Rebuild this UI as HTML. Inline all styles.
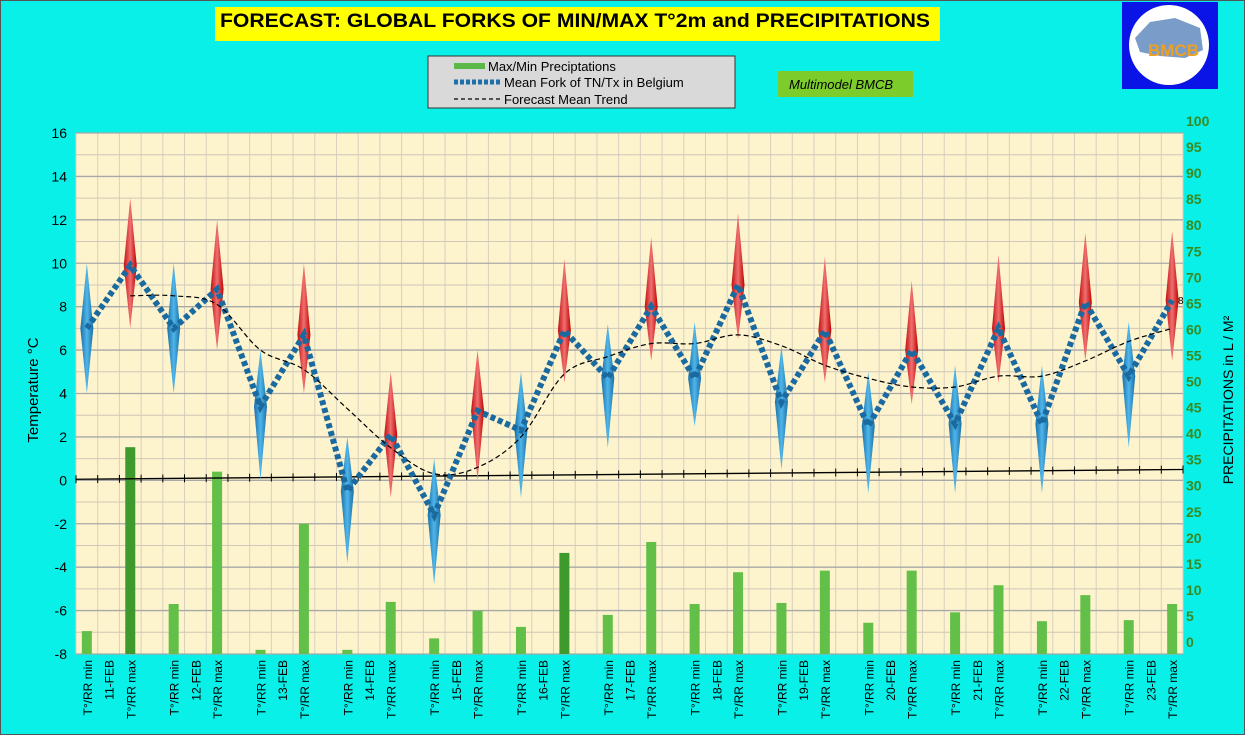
<!DOCTYPE html>
<html><head><meta charset="utf-8"><style>
body{margin:0;background:#08f0e8;font-family:"Liberation Sans",sans-serif}
svg{display:block}
</style></head><body>
<svg id="c" width="1245" height="735" xmlns="http://www.w3.org/2000/svg">
<defs>
<linearGradient id="gb" x1="0" x2="1"><stop offset="0" stop-color="#1a6fa8"/><stop offset="0.5" stop-color="#4fb6ea"/><stop offset="1" stop-color="#1a6fa8"/></linearGradient>
<linearGradient id="gr" x1="0" x2="1"><stop offset="0" stop-color="#c01010"/><stop offset="0.5" stop-color="#f07070"/><stop offset="1" stop-color="#c00000"/></linearGradient>
</defs>
<rect x="0" y="0" width="1245" height="735" fill="#08f0e8" stroke="#555" stroke-width="2"/>
<rect x="215" y="7" width="725" height="34" fill="#ffff00"/>
<text x="220" y="27" font-size="19" font-weight="bold" fill="#000" textLength="710" lengthAdjust="spacingAndGlyphs">FORECAST: GLOBAL FORKS OF  MIN/MAX T°2m and PRECIPITATIONS</text>
<g>
<rect x="428" y="56" width="307" height="52" fill="#d9d9d9" stroke="#333"/>
<rect x="454" y="63" width="31" height="6" fill="#5cb848"/>
<text x="488" y="71" font-size="13">Max/Min Preciptations</text>
<line x1="454" y1="82" x2="502" y2="82" stroke="#1f6fa8" stroke-width="5" stroke-dasharray="4,2"/>
<text x="504" y="87" font-size="13">Mean Fork of TN/Tx in Belgium</text>
<line x1="454" y1="99" x2="502" y2="99" stroke="#000" stroke-width="1.3" stroke-dasharray="4,3"/>
<text x="504" y="104" font-size="13">Forecast Mean Trend</text>
</g>
<rect x="778" y="71" width="135" height="26" fill="#7ccc2c"/>
<text x="789" y="89" font-size="13" font-style="italic">Multimodel BMCB</text>
<g>
<rect x="1122" y="2" width="96" height="87" fill="#0a14e6"/>
<ellipse cx="1169" cy="45" rx="40" ry="40" fill="#fff"/>
<path d="M1135 38 L1150 22 L1175 18 L1200 28 L1203 50 L1185 58 L1160 56 L1140 52Z" fill="#7a9cc8"/>
<text x="1148" y="56" font-size="17" font-weight="bold" fill="#f0a020">BMCB</text>
</g>
<g id="plot"></g>
</svg>
<script>
const days=['11-FEB','12-FEB','13-FEB','14-FEB','15-FEB','16-FEB','17-FEB','18-FEB','19-FEB','20-FEB','21-FEB','22-FEB','23-FEB'];
const minMean=[7,7,3.4,-0.5,-1.6,2.3,4.7,4.7,3.6,2.5,2.6,2.6,4.8];
const maxMean=[9.9,8.8,6.7,2.1,3.2,6.9,8.0,9.0,6.9,6.0,7.0,8.2,8.3];
const minLow=[4,4,0,-3.8,-4.8,-0.8,1.5,2.5,0.5,-0.6,-0.6,-0.6,1.5];
const minHigh=[10,10,6,2,1,5,7.2,7.3,6.2,5,5.3,5.3,7.3];
const maxLow=[7,6,4,-0.8,0,4.5,5.5,6.5,4.5,3.5,4.5,5.5,5.5];
const maxHigh=[13,12,10,5,6,10.2,11.2,12.3,10.3,9.2,10.4,11.4,11.5];
const trendMin=[null,8.5,6.0,3.3,0.3,2.0,5.7,6.3,6.2,4.7,4.3,4.8,6.4];
const trendMax=[8.5,8.1,5.1,1.5,0.6,4.9,6.3,6.7,5.3,4.3,4.8,5.5,7.0];
const rrMin=[4.4,9.6,0.8,0.8,3,5.2,7.5,9.6,9.8,6,8,6.3,6.5];
const rrMax=[39.7,35,25,10,8.3,19.4,21.5,15.7,16,16,13.2,11.3,9.6];
const baseStart=0.05, baseEnd=0.5;
const tTicks=[16,14,12,10,8,6,4,2,0,-2,-4,-6,-8];

const L=76,R=1183,T=133,B=654,NS=51,sw=(R-L)/NS;
const yT=v=>B-(v+8)/24*(B-T);
const yP=v=>B-v/100*(B-T);
const xS=i=>L+sw*(i+0.5);
const NS_='http://www.w3.org/2000/svg';
const g=document.getElementById('plot');
function el(t,a,p){const e=document.createElementNS(NS_,t);for(const k in a)e.setAttribute(k,a[k]);(p||g).appendChild(e);return e;}

let bg=el('rect',{x:L,y:T,width:R-L,height:B-T,fill:'#fdf3cc'});


for(let i=0;i<=NS;i++){let l=el('line',{x1:L+i*sw,x2:L+i*sw,y1:T,y2:B,stroke:'#d8d0c0','stroke-width':1});

}
for(let v=-8;v<=16;v++){let l=el('line',{x1:L,x2:R,y1:yT(v),y2:yT(v),stroke:v%2==0?'#a8a8a8':'#d0c8b8','stroke-width':v%2==0?1.3:1});

}
tTicks.forEach(v=>{let t=el('text',{x:67,y:yT(v)+5,'font-size':14,'text-anchor':'end',fill:'#000'});t.textContent=v;

});
for(let v=0;v<=100;v+=5){let t=el('text',{x:1186,y:yP(v)-12+5,'font-size':14,'font-weight':'bold',fill:'#3a8a20'});t.textContent=v;

}
let yl=el('text',{x:38,y:390,'font-size':15,'text-anchor':'middle',transform:'rotate(-90 38 390)'});yl.textContent='Temperature  °C';


let y2=el('text',{x:1233,y:400,'font-size':14,'text-anchor':'middle',transform:'rotate(-90 1233 400)'});y2.textContent='PRECIPITATIONS in L / M²';



days.forEach((d,k)=>{
 [[rrMin[k],4*k],[rrMax[k],4*k+2]].forEach(([v,s],j)=>{
  const dark=(k==0&&j==1)||(k==5&&j==1);
  let r=el('rect',{x:xS(s)-5,y:yP(v),width:10,height:B-yP(v),fill:dark?'#3f9a2e':'#62c048'});
  
  
 });
});
let bl=el('line',{x1:L,x2:R,y1:yT(baseStart),y2:yT(baseEnd),stroke:'#000','stroke-width':1.3});


for(let i=0;i<=NS;i++){const v=baseStart+(baseEnd-baseStart)*i/NS;let l=el('line',{x1:L+i*sw,x2:L+i*sw,y1:yT(v)-4,y2:yT(v)+4,stroke:'#000'});

}
function diamond(s,lo,mid,hi,fill,name){
 const x=xS(s),w=6.5;
 let p=el('path',{d:`M${x} ${yT(hi)} L${x+w} ${yT(mid)} L${x} ${yT(lo)} L${x-w} ${yT(mid)}Z`,fill:fill,stroke:'none'});
 
 
}
days.forEach((d,k)=>{diamond(4*k,minLow[k],minMean[k],minHigh[k],'url(#gb)','min-fork-diamond');
 diamond(4*k+2,maxLow[k],maxMean[k],maxHigh[k],'url(#gr)','max-fork-diamond');});
let pts=[];days.forEach((d,k)=>{pts.push([xS(4*k),yT(minMean[k])]);pts.push([xS(4*k+2),yT(maxMean[k])]);});
let fl=el('polyline',{points:pts.map(p=>p.join(',')).join(' '),fill:'none',stroke:'#1a6aa0','stroke-width':6,'stroke-dasharray':'5,3'});


let tp=[];days.forEach((d,k)=>{if(trendMin[k]!=null)tp.push([xS(4*k),yT(trendMin[k])]);tp.push([xS(4*k+2),yT(trendMax[k])]);});
let dd=`M${tp[0][0]} ${tp[0][1]}`;
for(let i=0;i<tp.length-1;i++){const p0=tp[Math.max(0,i-1)],p1=tp[i],p2=tp[i+1],p3=tp[Math.min(tp.length-1,i+2)];
 dd+=` C${p1[0]+(p2[0]-p0[0])/6} ${p1[1]+(p2[1]-p0[1])/6} ${p2[0]-(p3[0]-p1[0])/6} ${p2[1]-(p3[1]-p1[1])/6} ${p2[0]} ${p2[1]}`;}
let tl=el('path',{d:dd,fill:'none',stroke:'#000','stroke-width':1.2,'stroke-dasharray':'5,3'});


let e8=el('text',{x:1178,y:yT(8.3)+4,'font-size':10});e8.textContent='8';


days.forEach((d,k)=>{
 [[4*k,'T°/RR min'],[4*k+1,d],[4*k+2,'T°/RR max']].forEach(([s,txt])=>{
  const x=xS(s)+5,y=660;
  let t=el('text',{x:x,y:y,'font-size':12,'text-anchor':'end',transform:`rotate(-90 ${x} ${y})`});t.textContent=txt;
  
  
 });
});
</script>
</body></html>
